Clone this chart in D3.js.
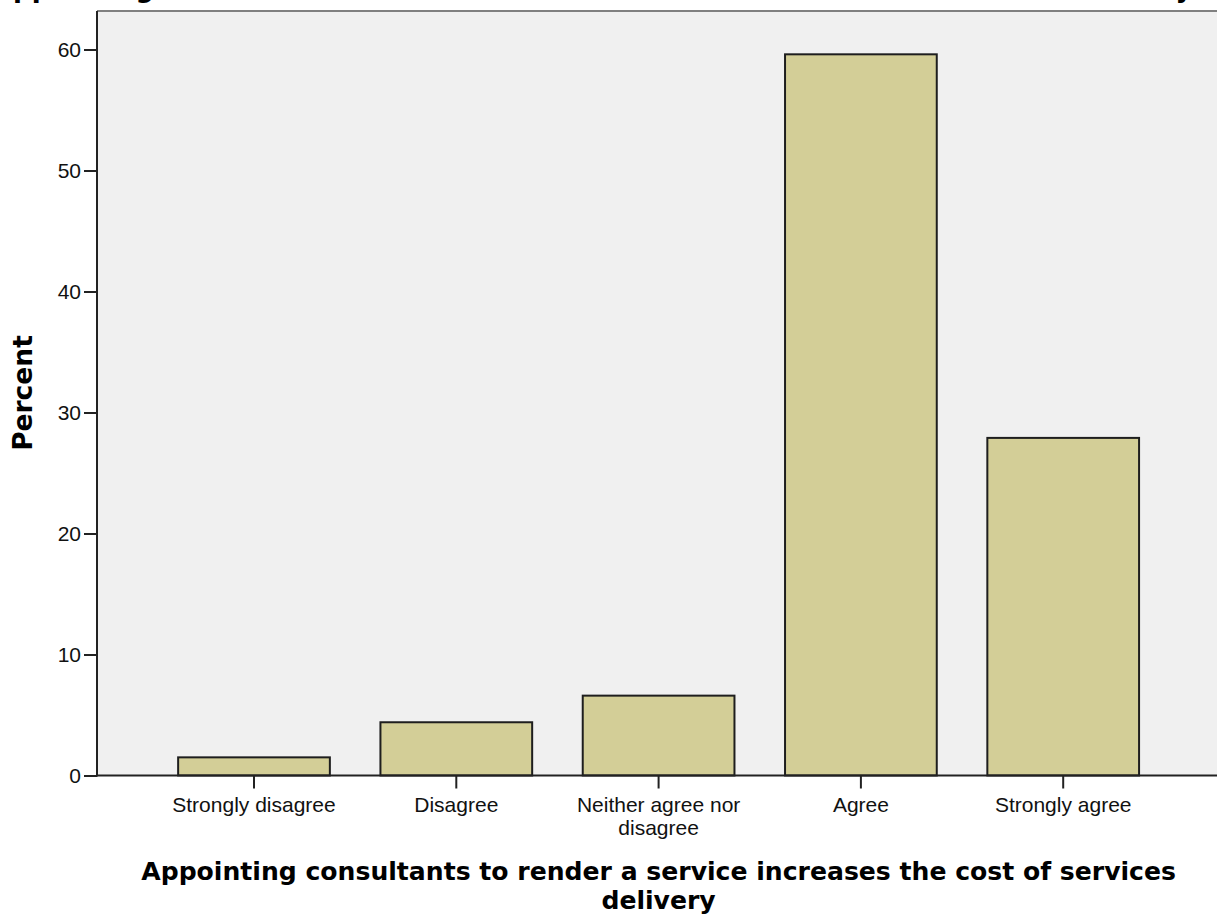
<!DOCTYPE html>
<html><head><meta charset="utf-8">
<script src="https://cdn.jsdelivr.net/npm/d3@7"></script>
<style>body{margin:0;background:#fff;overflow:hidden}</style>
</head><body>
<svg id="c" width="1217" height="918"></svg>
<script>
const categories = ["Strongly disagree","Disagree","Neither agree nor disagree","Agree","Strongly agree"];
const categoryLines = [["Strongly disagree"],["Disagree"],["Neither agree nor","disagree"],["Agree"],["Strongly agree"]];
const percents = [1.5, 4.4, 6.6, 59.6, 27.9];
const yTicks = [0, 10, 20, 30, 40, 50, 60];
const chartTitle = "Appointing consultants to render a service increases the cost of services delivery";
const xTitleLines = ["Appointing consultants to render a service increases the cost of services", "delivery"];
const yTitle = "Percent";

(function () {
const svg = d3.select("#c");
const pLeft = 97, pTop = 11, pBottom = 775.5, pRight = 1217;
const x = d3.scaleBand().domain(categories).range([152.85, 1164.35]).paddingInner(0.25).paddingOuter(0.125);
const y = d3.scaleLinear().domain([0, 63.18]).range([pBottom, pTop]);

// top title (cropped by the top edge, as in the reference)
svg.append("text").attr("x", -7).attr("y", -3)
  .attr("font-family", "DejaVu Sans").attr("font-weight", "bold").attr("font-size", 26)
  .attr("fill", "#000").text(chartTitle);

// plot background
svg.append("rect").attr("x", pLeft).attr("y", pTop).attr("width", pRight - pLeft + 10).attr("height", pBottom - pTop).attr("fill", "#f0f0f0");
svg.append("line").attr("x1", pLeft).attr("x2", pRight + 5).attr("y1", pTop).attr("y2", pTop).attr("stroke", "#808080").attr("stroke-width", 2);

// bars
svg.append("g").selectAll("rect").data(categories).join("rect")
  .attr("x", d => x(d)).attr("width", x.bandwidth())
  .attr("y", (d, i) => y(percents[i])).attr("height", (d, i) => y(0) - y(percents[i]))
  .attr("fill", "#d3ce97").attr("stroke", "#1e1e1e").attr("stroke-width", 2);

// y axis
const ya = svg.append("g").attr("transform", `translate(${pLeft},0)`)
  .call(d3.axisLeft(y).tickValues(yTicks).tickSize(13).tickPadding(3).tickFormat(d3.format("d")));
ya.select(".domain").remove();
ya.selectAll(".tick line").attr("stroke", "#222").attr("stroke-width", 2);
ya.selectAll(".tick text").attr("font-family", "Liberation Sans, Arial").attr("font-size", 21).attr("fill", "#111");
svg.append("line").attr("x1", pLeft).attr("x2", pLeft).attr("y1", pTop).attr("y2", pBottom + 1).attr("stroke", "#222").attr("stroke-width", 2);

// x axis
const xa = svg.append("g").attr("transform", `translate(0,${pBottom})`)
  .call(d3.axisBottom(x).tickSize(13));
xa.select(".domain").remove();
xa.selectAll(".tick line").attr("stroke", "#222").attr("stroke-width", 2);
xa.selectAll(".tick text").each(function(d, i) {
  const t = d3.select(this).attr("y", null).attr("dy", null).text(null)
    .attr("font-family", "Liberation Sans, Arial").attr("font-size", 21).attr("fill", "#111");
  categoryLines[i].forEach((ln, j) => t.append("tspan").attr("x", 0).attr("y", 36 + j * 23).text(ln));
});
svg.append("line").attr("x1", pLeft).attr("x2", pRight + 5).attr("y1", pBottom).attr("y2", pBottom).attr("stroke", "#222").attr("stroke-width", 2);

// x title
const cx = (x(categories[0]) + x(categories[4]) + x.bandwidth()) / 2;
svg.append("text").attr("text-anchor", "middle")
  .attr("font-family", "DejaVu Sans").attr("font-weight", "bold").attr("font-size", 25.1).attr("fill", "#000")
  .selectAll("tspan").data(xTitleLines).join("tspan")
  .attr("x", cx).attr("y", (d, i) => 880 + i * 28.5).text(d => d);

// y title
svg.append("text").attr("transform", "translate(32,393) rotate(-90)").attr("text-anchor", "middle")
  .attr("font-family", "DejaVu Sans").attr("font-weight", "bold").attr("font-size", 26.5).attr("fill", "#000")
  .text(yTitle);
})();
</script>
</body></html>
